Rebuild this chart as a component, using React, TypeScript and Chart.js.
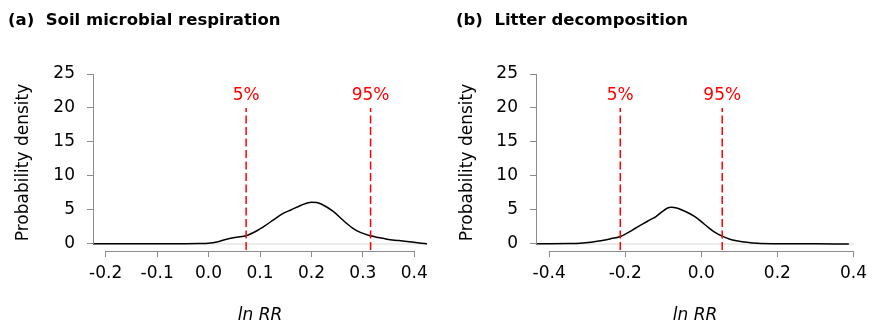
import React, { useEffect, useRef } from "react";
import { Chart, registerables } from "chart.js";

Chart.register(...registerables);

const FONT = "'DejaVu Sans', 'Liberation Sans', Arial, sans-serif";
const AXIS_COLOR = "#8c8c8c";
const BASELINE_COLOR = "#d9d9d9";
const RED = "#ff0000";

// shared y axis
const Y_TICKS = [0, 5, 10, 15, 20, 25];
const Y_MIN = -1.03;
const Y_MAX = 25;
const PCT_LABELS = ["5%", "95%"];
const PCT_LINE_TOP = 20;
const PCT_LINE_BOTTOM = -0.9;
const PCT_LABEL_Y = 21.8;

// panel (a)
const A_TITLE = "(a)  Soil microbial respiration";
const A_X_TICKS = [-0.2, -0.1, 0.0, 0.1, 0.2, 0.3, 0.4];
const A_X_MIN = -0.2247;
const A_X_MAX = 0.4247;
const A_LNRR = [
  -0.2247, -0.15, -0.1, -0.05, -0.02, 0.0, 0.016, 0.035, 0.055, 0.073, 0.094,
  0.11, 0.127, 0.145, 0.16, 0.18, 0.2, 0.21, 0.22, 0.243, 0.26, 0.269, 0.28,
  0.295, 0.315, 0.33, 0.347, 0.37, 0.386, 0.41, 0.4247,
];
const A_DENSITY = [
  0.02, 0.03, 0.04, 0.05, 0.07, 0.12, 0.3, 0.7, 1.0, 1.22, 1.95, 2.7, 3.6,
  4.5, 5.0, 5.7, 6.15, 6.1, 5.85, 4.75, 3.6, 3.0, 2.35, 1.7, 1.2, 0.95, 0.7,
  0.5, 0.35, 0.15, 0.05,
];
const A_PCT = [0.073, 0.315];

// panel (b)
const B_TITLE = "(b)  Litter decomposition";
const B_X_TICKS = [-0.4, -0.2, 0.0, 0.2, 0.4];
const B_X_MIN = -0.4346;
const B_X_MAX = 0.4015;
const B_LNRR = [
  -0.4346, -0.4, -0.35, -0.319, -0.29, -0.268, -0.24, -0.213, -0.195, -0.181,
  -0.165, -0.146, -0.13, -0.12, -0.103, -0.09, -0.079, -0.065, -0.051, -0.035,
  -0.016, 0.0, 0.018, 0.035, 0.055, 0.075, 0.096, 0.12, 0.148, 0.2, 0.3, 0.388,
];
const B_DENSITY = [
  0.02, 0.03, 0.06, 0.1, 0.25, 0.45, 0.75, 1.1, 1.6, 2.05, 2.6, 3.2, 3.7, 4.0,
  4.75, 5.25, 5.4, 5.3, 5.0, 4.6, 4.0, 3.3, 2.45, 1.75, 1.15, 0.7, 0.45, 0.25,
  0.1, 0.04, 0.02, 0.01,
];
const B_PCT = [-0.213, 0.055];

type PanelCfg = {
  title: string;
  xTicks: number[];
  xMin: number;
  xMax: number;
  lnrr: number[];
  density: number[];
  pct: number[];
  width: number;
  padLeft: number;
  padRight: number;
  yWidth: number;
  yTitlePad: number;
};

const PANELS: PanelCfg[] = [
  {
    title: A_TITLE,
    xTicks: A_X_TICKS,
    xMin: A_X_MIN,
    xMax: A_X_MAX,
    lnrr: A_LNRR,
    density: A_DENSITY,
    pct: A_PCT,
    width: 436,
    padLeft: 8,
    padRight: 9,
    yWidth: 85,
    yTitlePad: 5,
  },
  {
    title: B_TITLE,
    xTicks: B_X_TICKS,
    xMin: B_X_MIN,
    xMax: B_X_MAX,
    lnrr: B_LNRR,
    density: B_DENSITY,
    pct: B_PCT,
    width: 437,
    padLeft: 20,
    padRight: 15,
    yWidth: 80,
    yTitlePad: 1,
  },
];

const rAxesPlugin = {
  id: "rAxes",
  afterDraw(chart: any, _args: any, opts: any) {
    const { ctx, chartArea } = chart;
    const x = chart.scales.x;
    const y = chart.scales.y;
    ctx.save();
    ctx.strokeStyle = AXIS_COLOR;
    ctx.lineWidth = 1;
    // y axis line (0 to 25)
    const xl = Math.round(chartArea.left - 0.5) + 0.5;
    ctx.beginPath();
    ctx.moveTo(xl, y.getPixelForValue(Y_TICKS[0]));
    ctx.lineTo(xl, y.getPixelForValue(Y_TICKS[Y_TICKS.length - 1]));
    ctx.stroke();
    // x axis line between first and last tick
    const yb = Math.round(chartArea.bottom - 0.5) + 0.5;
    const t = x.ticks;
    ctx.beginPath();
    ctx.moveTo(Math.round(x.getPixelForValue(t[0].value) - 0.5) + 0.5, yb);
    ctx.lineTo(Math.round(x.getPixelForValue(t[t.length - 1].value) - 0.5) + 0.5, yb);
    ctx.stroke();
    // percentile labels
    ctx.fillStyle = RED;
    ctx.font = `17px ${FONT}`;
    ctx.textAlign = "center";
    ctx.textBaseline = "middle";
    (opts.pct || []).forEach((v: number, i: number) => {
      ctx.fillText(PCT_LABELS[i], x.getPixelForValue(v), y.getPixelForValue(PCT_LABEL_Y));
    });
    ctx.restore();
  },
};

function Panel({ cfg }: { cfg: PanelCfg }) {
  const ref = useRef<HTMLCanvasElement | null>(null);
  useEffect(() => {
    if (!ref.current) return;
    const curve = cfg.lnrr.map((v, i) => ({ x: v, y: cfg.density[i] }));
    const pctSets = cfg.pct.map((v) => ({
      data: [
        { x: v, y: PCT_LINE_BOTTOM },
        { x: v, y: PCT_LINE_TOP },
      ],
      borderColor: RED,
      borderWidth: 1.5,
      borderDash: [8, 3.5],
      pointRadius: 0,
      order: 1,
    }));
    const chart = new Chart(ref.current, {
      type: "line",
      data: {
        datasets: [
          {
            data: [
              { x: cfg.xMin, y: 0 },
              { x: cfg.xMax, y: 0 },
            ],
            borderColor: BASELINE_COLOR,
            borderWidth: 1,
            pointRadius: 0,
            order: 3,
          },
          {
            data: curve,
            borderColor: "#000000",
            borderWidth: 1.5,
            pointRadius: 0,
            cubicInterpolationMode: "monotone",
            order: 2,
          },
          ...pctSets,
        ] as any,
      },
      options: {
        responsive: false,
        animation: false,
        events: [],
        layout: { padding: { left: cfg.padLeft, right: cfg.padRight, top: 0, bottom: 0 } },
        plugins: {
          legend: { display: false },
          tooltip: { enabled: false },
          title: {
            display: true,
            text: cfg.title,
            align: "start",
            color: "#000",
            font: { family: FONT, size: 16.5, weight: "bold" },
            padding: { top: 10.6, bottom: 43.6 },
          },
          rAxes: { pct: cfg.pct },
        } as any,
        scales: {
          x: {
            type: "linear",
            min: cfg.xMin,
            max: cfg.xMax,
            bounds: "data",
            afterBuildTicks: (s: any) => {
              s.ticks = cfg.xTicks.map((v) => ({ value: v }));
            },
            afterFit: (s: any) => {
              s.height = 78;
            },
            ticks: {
              autoSkip: false,
              maxRotation: 0,
              padding: 6,
              color: "#000",
              font: { family: FONT, size: 17 },
              callback: (v: any) => Number(v).toFixed(1),
            },
            grid: {
              display: true,
              drawOnChartArea: false,
              drawTicks: true,
              tickLength: 6,
              color: AXIS_COLOR,
              lineWidth: 1,
            },
            border: { display: false },
            title: {
              display: true,
              text: "ln RR",
              color: "#000",
              font: { family: FONT, size: 17, style: "italic" },
              padding: { top: 0, bottom: 3 },
            },
          },
          y: {
            type: "linear",
            min: Y_MIN,
            max: Y_MAX,
            bounds: "data",
            afterBuildTicks: (s: any) => {
              s.ticks = Y_TICKS.map((v) => ({ value: v }));
            },
            afterFit: (s: any) => {
              s.width = cfg.yWidth;
            },
            ticks: {
              autoSkip: false,
              padding: 12,
              color: "#000",
              font: { family: FONT, size: 17 },
              callback: (v: any) => String(v),
            },
            grid: {
              display: true,
              drawOnChartArea: false,
              drawTicks: true,
              tickLength: 6,
              color: AXIS_COLOR,
              lineWidth: 1,
            },
            border: { display: false },
            title: {
              display: true,
              text: "Probability density",
              color: "#000",
              font: { family: FONT, size: 17 },
              padding: { top: cfg.yTitlePad, bottom: 0 },
            },
          },
        },
      } as any,
      plugins: [rAxesPlugin],
    });
    return () => chart.destroy();
  }, [cfg]);
  return (
    <canvas
      ref={ref}
      width={cfg.width}
      height={329}
      style={{ display: "block", width: cfg.width, height: 329 }}
    />
  );
}

export default function App() {
  return (
    <div
      style={{
        position: "fixed",
        left: 0,
        top: 0,
        width: 873,
        height: 329,
        background: "#fff",
        display: "flex",
      }}
    >
      {PANELS.map((p, i) => (
        <Panel key={i} cfg={p} />
      ))}
    </div>
  );
}
